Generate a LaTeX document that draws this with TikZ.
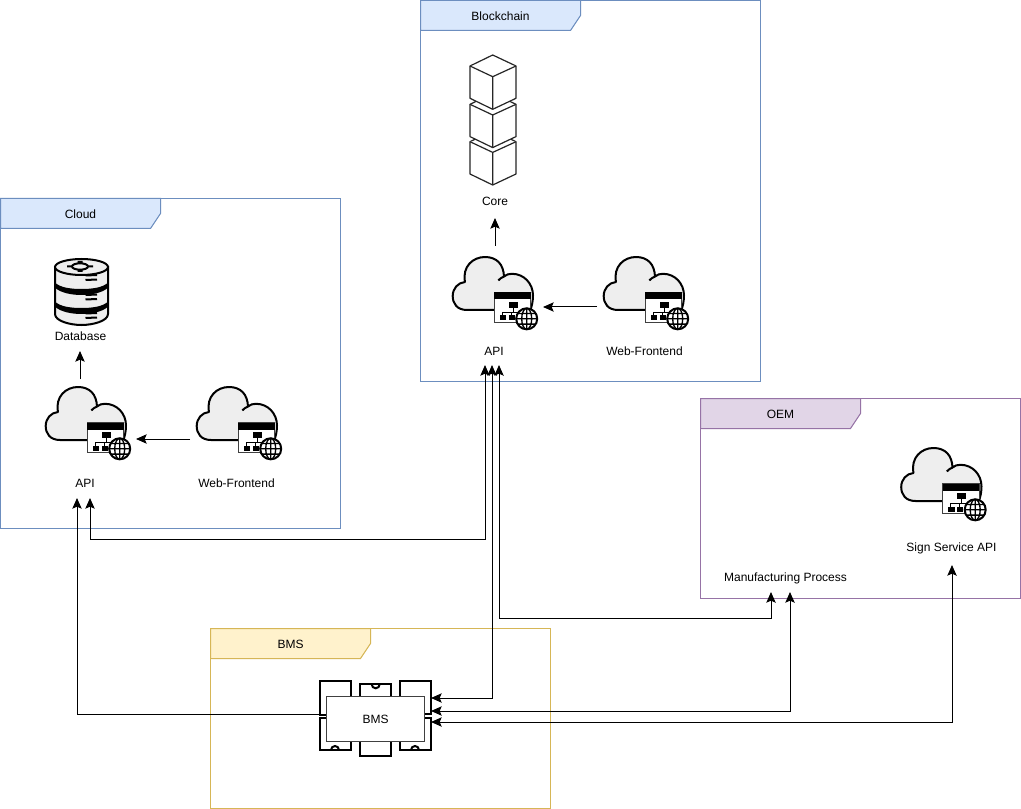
\documentclass[tikz,border=0pt]{standalone}
\usepackage{fontspec}
\setmainfont{Liberation Sans}
\usetikzlibrary{arrows.meta}
\definecolor{bluef}{HTML}{DAE8FC}\definecolor{blues}{HTML}{6C8EBF}
\definecolor{purf}{HTML}{E1D5E7}\definecolor{purs}{HTML}{9673A6}
\definecolor{yelf}{HTML}{FFF2CC}\definecolor{yels}{HTML}{D6B656}
\definecolor{icong}{HTML}{EEEEEE}
\tikzset{
 lbl/.style={font=\fontsize{9pt}{11pt}\selectfont,text=black,inner sep=0pt},
 conn/.style={draw=black,line width=.75pt,-{Stealth[length=8pt,width=7pt,inset=1.5pt]}},
 conn2/.style={draw=black,line width=.75pt,{Stealth[length=8pt,width=7pt,inset=1.5pt]}-{Stealth[length=8pt,width=7pt,inset=1.5pt]}},
 heavy/.style={line width=1.5pt,draw=black},
 thinl/.style={line width=.75pt,draw=black!75},
 cube/.style={line width=.9pt,draw=black!85,fill=white,line join=round},
 cloudapi/.pic={
  \path[heavy,fill=icong,line join=round] (42,53.5) -- (15,53.5)
    .. controls (5,53.5) and (0.7,47) .. (0.7,39.5)
    .. controls (0.7,32) and (6,26) .. (13,25.5)
    .. controls (10,10) and (21,0.5) .. (33,0.5)
    .. controls (45,0.5) and (51.5,8) .. (52,20)
    .. controls (54,18) and (57,17.3) .. (60,17.3)
    .. controls (72,17.3) and (81,27) .. (81,39)
    .. controls (81,44) and (80,50) .. (78,54) -- cycle;
  \path[heavy] (46.3,24) .. controls (47.5,22.5) and (49.5,21) .. (52,20);
  \path[fill=white,thinl] (42.3,36) rectangle (78.7,66);
  \path[fill=black] (42.3,36) rectangle (78.7,43);
  \path[fill=black] (56.5,45.5) rectangle (65.5,51.5);
  \path[fill=black] (47.5,59) rectangle (54,64);
  \path[fill=black] (56.5,59) rectangle (62.5,64);
  \path[draw=black,line width=.6pt] (61,51.5) -- (61,55.5) (50,59) -- (50,55.5) -- (73,55.5) -- (73,59) (59,59) -- (59,55.5);
  \path[heavy,fill=white] (74.7,62.3) circle[radius=10.5];
  \path[draw=black,line width=1pt] (74.7,62.3) ellipse[x radius=5,y radius=10.5]
    (74.7,51.8) -- (74.7,72.8) (64.2,62.3) -- (85.2,62.3)
    (65.7,57) -- (83.7,57) (65.7,67.6) -- (83.7,67.6);
 },
}
\newcommand{\frameh}[6]{% x0,y0,x1,y1,fill,stroke
 \path[draw=#6,line width=.75pt,fill=white] (#1,#2) rectangle (#3,#4);
 \path[draw=#6,line width=.75pt,fill=#5] (#1,#2) -- ({#1+160},#2) -- ({#1+160},{#2+15}) -- ({#1+150},{#2+30}) -- (#1,{#2+30}) -- cycle;
}
\begin{document}
\begin{tikzpicture}[x=.75pt,y=-.75pt]
\useasboundingbox (0,0) rectangle (1021,809);
\path[fill=white] (0,0) rectangle (1021,809);
% frames
\frameh{0.5}{198.5}{340.5}{528.5}{bluef}{blues}
\frameh{420.5}{0.5}{760.5}{381.5}{bluef}{blues}
\frameh{700.5}{398.5}{1020.5}{598.5}{purf}{purs}
\frameh{210.5}{628.5}{550.5}{808.5}{yelf}{yels}
\node[lbl] (tcloud) at (80.5,214) {Cloud};
\node[lbl] (tchain) at (500.5,16) {Blockchain};
\node[lbl] (toem) at (780.5,414) {OEM};
\node[lbl] (tbms) at (290.5,644) {BMS};
% cubes
\foreach \d in {75.7,38.3,0}{
 \path[cube] (492.7,{55+\d}) -- (516,{66+\d}) -- (516,{98.3+\d}) -- (492.7,{109.3+\d}) -- (470,{98.3+\d}) -- (470,{66+\d}) -- cycle;
 \path[cube] (470,{66+\d}) -- (492.7,{76.7+\d}) -- (516,{66+\d}) (492.7,{76.7+\d}) -- (492.7,{109.3+\d});
}
% clouds
\pic at (452,256.5) {cloudapi};
\pic at (603,256.5) {cloudapi};
\pic at (45,386.5) {cloudapi};
\pic at (196,386.5) {cloudapi};
\pic at (900.5,447.5) {cloudapi};
% database
\path[heavy,fill=icong] (55,267) -- (55,314) .. controls (55,321) and (70,325) .. (81.5,325) .. controls (93,325) and (108,321) .. (108,314) -- (108,267) -- cycle;
\path[heavy,fill=icong] (81.5,267) ellipse[x radius=26.5,y radius=8];
\path[fill=black] (54.3,282) .. controls (60,288) and (72,289) .. (81.5,289) .. controls (91,289) and (103,288) .. (108.7,282) -- (108.7,287) .. controls (103,293) and (91,295) .. (81.5,295) .. controls (72,295) and (60,293) .. (54.3,287) -- cycle;
\path[fill=black] (54.3,301) .. controls (60,307) and (72,308) .. (81.5,308) .. controls (91,308) and (103,307) .. (108.7,301) -- (108.7,306) .. controls (103,312) and (91,314) .. (81.5,314) .. controls (72,314) and (60,312) .. (54.3,306) -- cycle;
\path[draw=black,line width=1.5pt] (80,266.5) ellipse[x radius=8,y radius=3.2];
\path[fill=black] (67,265.5) rectangle (72,267.5) (88,265.5) rectangle (93,267.5) (77.5,261) rectangle (82.5,263) (77.5,270) rectangle (82.5,272);
\foreach \y in {275,294.5,313}{
 \path[draw=black,line width=1.5pt] (85.5,{\y+.5}) -- (97,\y) (85.5,{\y+5}) -- (97,{\y+4.5});
}
% BMS icon
\path[heavy] (326,714.7) -- (320,714.7) -- (320,680.7) -- (351,680.7) -- (351,696);
\path[heavy] (326,718.3) -- (320,718.3) -- (320,750) -- (351,750) -- (351,740);
\path[heavy] (360,696) -- (360,684.3) -- (390.7,684.3) -- (390.7,696);
\path[heavy] (360,740) -- (360,756) -- (390.7,756) -- (390.7,740);
\path[heavy] (400,696) -- (400,680.7) -- (430.7,680.7) -- (430.7,713.5) -- (424,713.5);
\path[heavy] (424,718.3) -- (430.7,718.3) -- (430.7,750) -- (400,750) -- (400,740);
\path[heavy] (371.7,684.3) arc[start angle=180,end angle=0,radius=4];
\path[heavy] (331,750) arc[start angle=180,end angle=360,radius=4];
\path[heavy] (411,750) arc[start angle=180,end angle=360,radius=4];
\node[draw=black!75,line width=.75pt,fill=white,minimum width=73.2pt,minimum height=33.75pt,inner sep=0pt,text depth=0pt,yshift=-.5pt,font=\fontsize{9pt}{11pt}\selectfont] (bms) at (375.5,718.2) {BMS};
% labels
\node[lbl] (core) at (495,201) {Core};
\node[lbl] (apib) at (494,351.5) {API};
\node[lbl] (wfb) at (644.5,351.5) {Web-Frontend};
\node[lbl] (db) at (80.5,336.5) {Database};
\node[lbl] (apic) at (85,483) {API};
\node[lbl] (wfc) at (236.5,483) {Web-Frontend};
\node[lbl] (mfg) at (785.5,578) {Manufacturing Process};
\node[lbl] (sign) at (951.5,548) {Sign Service API};
% connector ends
\coordinate (coreA) at (495,246); \coordinate (coreB) at (495,218);
\coordinate (wfbA) at (597,307); \coordinate (apibW) at (543,307);
\coordinate (apicA) at (80,379); \coordinate (dbB) at (80,351);
\coordinate (wfcA) at (190,439); \coordinate (apicW) at (136,439);
\coordinate (apic1) at (90,498); \coordinate (apic2) at (77,498);
\coordinate (apib1) at (485,365); \coordinate (apib2) at (492,365); \coordinate (apib3) at (499,365);
\coordinate (mfg1) at (771,592); \coordinate (mfg2) at (790,592); \coordinate (sign1) at (952,565);
\coordinate (bmsL) at (320,714.5); \coordinate (bms1) at (431,698); \coordinate (bms2) at (431,711); \coordinate (bms3) at (431,722);
\draw[conn] (coreA) -- (coreB);
\draw[conn] (wfbA) -- (apibW);
\draw[conn] (apicA) -- (dbB);
\draw[conn] (wfcA) -- (apicW);
\draw[conn] (bmsL) -- (apic2 |- bmsL) -- (apic2);
\draw[conn2] (apic1) -- (apic1 |- 0,539) -- (apib1 |- 0,539) -- (apib1);
\draw[conn2] (bms1) -- (apib2 |- bms1) -- (apib2);
\draw[conn2] (apib3) -- (apib3 |- 0,618) -- (mfg1 |- 0,618) -- (mfg1);
\draw[conn2] (bms2) -- (mfg2 |- bms2) -- (mfg2);
\draw[conn2] (bms3) -- (sign1 |- bms3) -- (sign1);
\end{tikzpicture}
\end{document}
